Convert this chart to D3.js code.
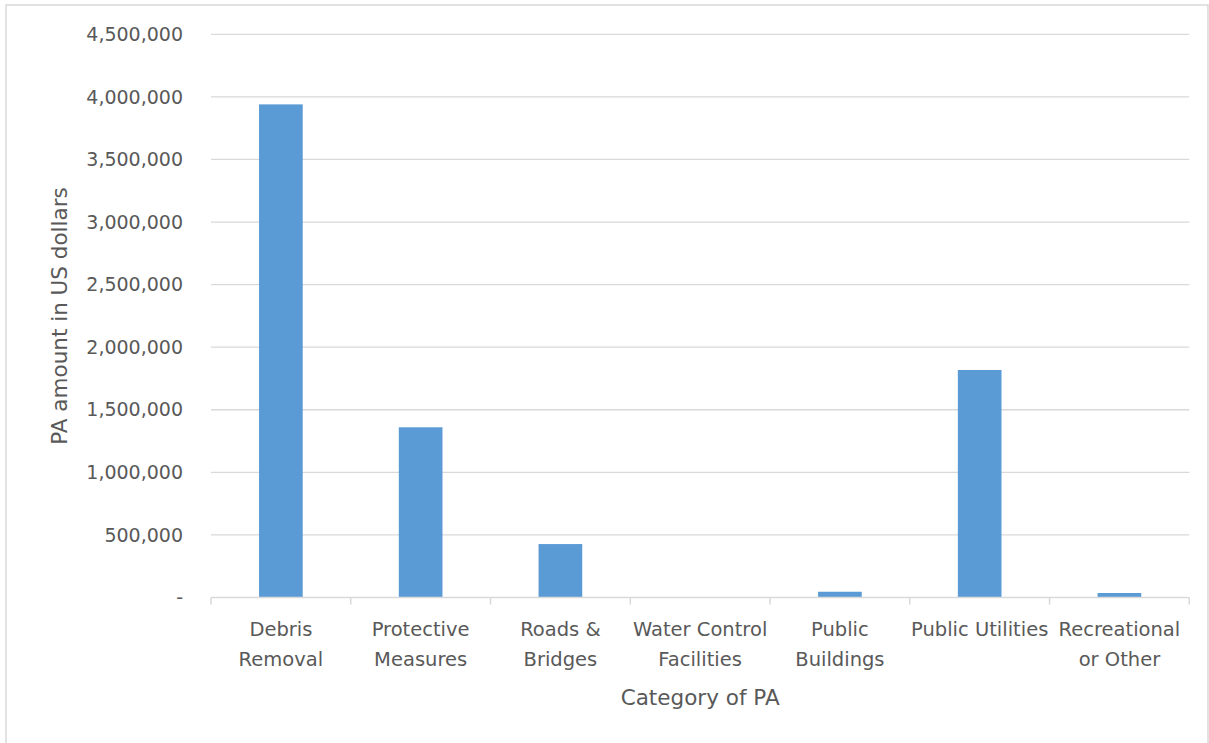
<!DOCTYPE html>
<html>
<head>
<meta charset="utf-8">
<script src="https://cdn.jsdelivr.net/npm/d3@7"></script>
<style>
  html, body { margin: 0; padding: 0; background: #fff; }
  svg { display: block; }
  text { font-family: "DejaVu Sans", sans-serif; fill: #595959; }
</style>
</head>
<body>
<svg id="chart" width="1209" height="743"></svg>
<script>
// Public Assistance amounts by category (US dollars)
const categories = [
  ["Debris", "Removal"],
  ["Protective", "Measures"],
  ["Roads &", "Bridges"],
  ["Water Control", "Facilities"],
  ["Public", "Buildings"],
  ["Public Utilities"],
  ["Recreational", "or Other"]
];
const amounts = [3940000, 1360000, 427000, 0, 46000, 1818000, 36000];
const yTicks = [0, 500000, 1000000, 1500000, 2000000, 2500000, 3000000, 3500000, 4000000, 4500000];

const svg = d3.select("#chart");
const plot = { left: 211, right: 1189.3, top: 34.3, bottom: 597.5 };

// outer chart frame
svg.append("rect")
  .attr("x", 6).attr("y", 5)
  .attr("width", 1202).attr("height", 760)
  .attr("fill", "none").attr("stroke", "#d9d9d9").attr("stroke-width", 1.5);

const x = d3.scaleBand()
  .domain(d3.range(categories.length))
  .range([plot.left, plot.right])
  .padding(0);

const y = d3.scaleLinear()
  .domain([0, 4500000])
  .range([plot.bottom, plot.top]);

const fmt = d3.format(",");

// horizontal gridlines
svg.append("g")
  .selectAll("line")
  .data(yTicks.filter(d => d > 0))
  .join("line")
  .attr("x1", plot.left).attr("x2", plot.right)
  .attr("y1", d => y(d)).attr("y2", d => y(d))
  .attr("stroke", "#d9d9d9").attr("stroke-width", 1.3);

// y-axis tick labels
svg.append("g")
  .selectAll("text")
  .data(yTicks)
  .join("text")
  .attr("x", 183)
  .attr("y", d => y(d))
  .attr("dy", "0.35em")
  .attr("text-anchor", "end")
  .style("font-size", "19px")
  .text(d => d === 0 ? "-" : fmt(d));

// bars
const barW = x.bandwidth() * 0.3125;
svg.append("g")
  .selectAll("rect")
  .data(amounts)
  .join("rect")
  .attr("x", (d, i) => x(i) + (x.bandwidth() - barW) / 2)
  .attr("y", d => y(d))
  .attr("width", barW)
  .attr("height", d => y(0) - y(d))
  .attr("fill", "#5b9bd5");

// category axis line and boundary ticks
svg.append("line")
  .attr("x1", plot.left).attr("x2", plot.right)
  .attr("y1", y(0)).attr("y2", y(0))
  .attr("stroke", "#d9d9d9").attr("stroke-width", 1.5);

const edges = d3.range(categories.length + 1).map(i =>
  i < categories.length ? x(i) : plot.right);
svg.append("g")
  .selectAll("line")
  .data(edges)
  .join("line")
  .attr("x1", d => d).attr("x2", d => d)
  .attr("y1", y(0)).attr("y2", y(0) + 7)
  .attr("stroke", "#d9d9d9").attr("stroke-width", 1.5);

// category labels
const catG = svg.append("g");
categories.forEach((lines, i) => {
  const t = catG.append("text")
    .attr("text-anchor", "middle")
    .style("font-size", "19.5px");
  lines.forEach((ln, j) => {
    t.append("tspan")
      .attr("x", x(i) + x.bandwidth() / 2)
      .attr("y", 636 + j * 30)
      .text(ln);
  });
});

// axis titles
svg.append("text")
  .attr("x", (plot.left + plot.right) / 2)
  .attr("y", 705)
  .attr("text-anchor", "middle")
  .style("font-size", "21.5px")
  .text("Category of PA");

svg.append("text")
  .attr("transform", "translate(67,316) rotate(-90)")
  .attr("text-anchor", "middle")
  .style("font-size", "21.5px")
  .text("PA amount in US dollars");
</script>
</body>
</html>
